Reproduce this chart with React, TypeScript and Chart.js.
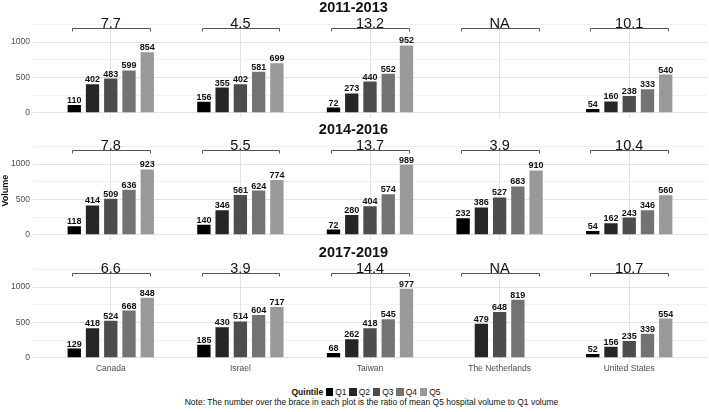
import React, { useEffect, useRef } from 'react';
import { Chart, registerables } from 'chart.js';

Chart.register(...registerables);

const FONT = '"Liberation Sans", Arial, Helvetica, sans-serif';

// Categories and quintile groups
const countries = ['Canada', 'Israel', 'Taiwan', 'The Netherlands', 'United States'];
const quintiles = ['Q1', 'Q2', 'Q3', 'Q4', 'Q5'];
const quintileColors = ['#000000', '#262626', '#4d4d4d', '#737373', '#999999'];

// Y axis ticks (grid at every 250, labels every 500)
const yTickValues = [0, 250, 500, 750, 1000, 1250];
const yTickLabels = ['0', '', '500', '', '1000', ''];

// 2011-2013 mean hospital volume by quintile
const v2011Q1 = [110, 156, 72, null, 54];
const v2011Q2 = [402, 355, 273, null, 160];
const v2011Q3 = [483, 402, 440, null, 238];
const v2011Q4 = [599, 581, 552, null, 333];
const v2011Q5 = [854, 699, 952, null, 540];
const ratio2011 = ['7.7', '4.5', '13.2', 'NA', '10.1'];

// 2014-2016
const v2014Q1 = [118, 140, 72, 232, 54];
const v2014Q2 = [414, 346, 280, 386, 162];
const v2014Q3 = [509, 561, 404, 527, 243];
const v2014Q4 = [636, 624, 574, 683, 346];
const v2014Q5 = [923, 774, 989, 910, 560];
const ratio2014 = ['7.8', '5.5', '13.7', '3.9', '10.4'];

// 2017-2019
const v2017Q1 = [129, 185, 68, null, 52];
const v2017Q2 = [418, 430, 262, 479, 156];
const v2017Q3 = [524, 514, 418, 648, 235];
const v2017Q4 = [668, 604, 545, 819, 339];
const v2017Q5 = [848, 717, 977, null, 554];
const ratio2017 = ['6.6', '3.9', '14.4', 'NA', '10.7'];

const periodTitles = ['2011-2013', '2014-2016', '2017-2019'];
const periodSeries = [
  [v2011Q1, v2011Q2, v2011Q3, v2011Q4, v2011Q5],
  [v2014Q1, v2014Q2, v2014Q3, v2014Q4, v2014Q5],
  [v2017Q1, v2017Q2, v2017Q3, v2017Q4, v2017Q5],
];
const periodRatios = [ratio2011, ratio2014, ratio2017];

const noteText =
  'Note: The number over the brace in each plot is the ratio of mean Q5 hospital volume to Q1 volume';

// Vertical range of each panel, and where the braces sit (in data units)
const Y_MIN = -68;
const Y_MAX = 1315;
const BRACE_LEVEL = 1200;
const BRACE_FOOT = 1150;

const GRID_MAJOR = '#e3e3e3';
const GRID_MINOR = '#f1f1f1';
const AXIS_TEXT = '#4d4d4d';

function overlayPlugin(ratios: string[]) {
  return {
    id: 'panelOverlay',
    afterDatasetsDraw(chart: any) {
      const ctx = chart.ctx as CanvasRenderingContext2D;
      const xs = chart.scales.x;
      const ys = chart.scales.y;
      ctx.save();

      // value labels above bars
      ctx.font = `bold 9px ${FONT}`;
      ctx.fillStyle = '#111111';
      ctx.textAlign = 'center';
      ctx.textBaseline = 'alphabetic';
      chart.data.datasets.forEach((ds: any, di: number) => {
        const meta = chart.getDatasetMeta(di);
        meta.data.forEach((bar: any, i: number) => {
          const v = ds.data[i];
          if (v === null || v === undefined) return;
          ctx.fillText(String(v), bar.x, bar.y - 2);
        });
      });

      // braces spanning Q1..Q5 with the ratio above
      const step = xs.getPixelForValue(1) - xs.getPixelForValue(0);
      const yTop = Math.round(ys.getPixelForValue(BRACE_LEVEL)) + 0.5;
      const yFoot = ys.getPixelForValue(BRACE_FOOT);
      ratios.forEach((r, i) => {
        const cx = xs.getPixelForValue(i);
        const l = Math.round(cx - step * 0.3) + 0.5;
        const rt = Math.round(cx + step * 0.3) + 0.5;
        ctx.strokeStyle = '#555555';
        ctx.lineWidth = 1;
        ctx.beginPath();
        ctx.moveTo(l, yFoot);
        ctx.lineTo(l, yTop);
        ctx.lineTo(rt, yTop);
        ctx.lineTo(rt, yFoot);
        ctx.stroke();
        ctx.font = `14.5px ${FONT}`;
        ctx.fillStyle = '#111111';
        ctx.fillText(r, cx, yTop - 1);
      });
      ctx.restore();
    },
  };
}

type RowProps = { index: number; top: number; height: number; showX: boolean; showYTitle: boolean };

function PeriodRow({ index, top, height, showX, showYTitle }: RowProps) {
  const ref = useRef<HTMLCanvasElement>(null);

  useEffect(() => {
    if (!ref.current) return;
    const series = periodSeries[index];
    const xHeight = showX ? 12 : 0;
    const chart = new Chart(ref.current, {
      type: 'bar',
      data: {
        labels: countries,
        datasets: quintiles.map((q, qi) => ({
          label: q,
          data: series[qi],
          backgroundColor: quintileColors[qi],
          borderWidth: 0,
          categoryPercentage: 0.704,
          barPercentage: 0.73,
        })),
      },
      options: {
        responsive: true,
        maintainAspectRatio: false,
        animation: false,
        events: [],
        layout: { padding: { left: 0, right: 2, top: 0, bottom: height - 117.5 - xHeight } },
        plugins: {
          legend: { display: false },
          tooltip: { enabled: false },
          title: {
            display: true,
            text: periodTitles[index],
            color: '#111111',
            font: { family: FONT, size: 14.5, weight: 'bold', lineHeight: 1 },
            padding: { top: 0.5, bottom: 4.8 },
          },
        },
        scales: {
          x: {
            type: 'category',
            offset: true,
            border: { display: false },
            grid: { color: GRID_MAJOR, lineWidth: 1, drawTicks: false, offset: false },
            ticks: {
              display: showX,
              color: AXIS_TEXT,
              font: { family: FONT, size: 8.5 },
              padding: 1,
              maxRotation: 0,
              autoSkip: false,
            },
            afterBuildTicks: (scale: any) => {
              // discrete axis with 0.6 category of space on each side
              scale._startValue = -0.6;
              scale._valueRange = countries.length + 0.2;
            },
            afterFit: (scale: any) => {
              scale.height = xHeight;
              scale.paddingLeft = 0;
              scale.paddingRight = 0;
            },
          },
          y: {
            type: 'linear',
            min: Y_MIN,
            max: Y_MAX,
            stacked: false,
            border: { display: false },
            grid: {
              drawTicks: false,
              lineWidth: 1,
              color: (c: any) => (c.tick && c.tick.value % 500 === 0 ? GRID_MAJOR : GRID_MINOR),
            },
            ticks: {
              color: AXIS_TEXT,
              font: { family: FONT, size: 8.5 },
              padding: 3,
              autoSkip: false,
              callback: (v: any) => {
                const k = yTickValues.indexOf(Number(v));
                return k >= 0 ? yTickLabels[k] : '';
              },
            },
            title: {
              display: showYTitle,
              text: 'Volume',
              color: '#111111',
              font: { family: FONT, size: 9, weight: 'bold', lineHeight: 1.2 },
              padding: 0,
            },
            afterBuildTicks: (scale: any) => {
              scale.ticks = yTickValues.map((v) => ({ value: v }));
            },
            afterFit: (scale: any) => {
              scale.width = 33;
              scale.paddingTop = 0;
              scale.paddingBottom = 0;
            },
          },
        },
      } as any,
      plugins: [overlayPlugin(periodRatios[index])],
    });
    return () => chart.destroy();
  }, [index, height, showX, showYTitle]);

  return (
    <div style={{ position: 'absolute', left: 0, top, width: 709, height }}>
      <canvas ref={ref} />
    </div>
  );
}

function Legend() {
  return (
    <div
      style={{
        position: 'absolute',
        left: 291.5,
        top: 386.5,
        height: 11,
        display: 'flex',
        alignItems: 'center',
        fontFamily: FONT,
        fontSize: '8.5px',
        lineHeight: '11px',
        color: '#111111',
        whiteSpace: 'nowrap',
      }}
    >
      <span style={{ fontWeight: 'bold', marginRight: 2.4 }}>Quintile</span>
      {quintiles.map((q, i) => (
        <React.Fragment key={q}>
          <span
            style={{
              display: 'inline-block',
              width: 7.6,
              height: 7.6,
              background: quintileColors[i],
              marginRight: 2,
            }}
          />
          <span style={{ marginRight: i < quintiles.length - 1 ? 2.6 : 0 }}>{q}</span>
        </React.Fragment>
      ))}
    </div>
  );
}

export default function App() {
  return (
    <div style={{ position: 'absolute', left: 0, top: 0, width: 709, height: 412, background: '#ffffff' }}>
      <PeriodRow index={0} top={0} height={122} showX={false} showYTitle={false} />
      <PeriodRow index={1} top={122} height={122} showX={false} showYTitle={true} />
      <PeriodRow index={2} top={245} height={132} showX={true} showYTitle={false} />
      <Legend />
      <div
        style={{
          position: 'absolute',
          left: 371.5,
          top: 397,
          transform: 'translateX(-50%)',
          whiteSpace: 'nowrap',
          fontFamily: FONT,
          fontSize: '8.5px',
          lineHeight: '11px',
          color: '#111111',
        }}
      >
        {noteText}
      </div>
    </div>
  );
}
